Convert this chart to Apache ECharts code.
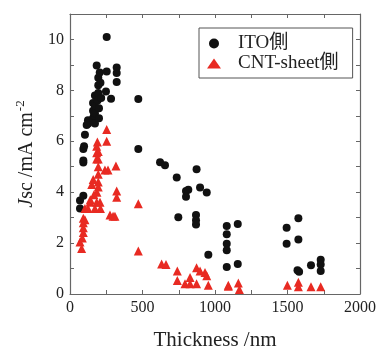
<!DOCTYPE html>
<html>
<head>
<meta charset="utf-8">
<script src="https://cdn.jsdelivr.net/npm/echarts@6/dist/echarts.min.js"></script>
<style>
  html, body {margin: 0; padding: 0; background: #fff;}
  #chart {width: 382px; height: 356px;}
</style>
</head>
<body>
<div id="chart"></div>
<script>
// thickness (nm), Jsc (mA cm-2)
const itoSide = [
  [69, 3.36], [69, 3.67], [92, 3.86], [92, 5.17], [92, 5.24], [92, 5.7], [97, 5.8], [103, 6.26],
  [115, 6.64], [124, 6.83], [126, 6.7], [159, 6.9], [159, 7.2], [159, 7.5], [165, 7.0],
  [172, 6.7], [172, 7.1], [172, 7.4], [172, 7.8], [184, 8.98], [190, 7.6], [195, 7.9],
  [195, 8.2], [195, 8.5], [200, 7.3], [200, 6.9], [205, 8.7], [210, 8.3], [215, 7.7],
  [253, 10.1], [253, 8.74], [248, 7.96], [283, 7.67], [322, 8.9], [322, 8.68], [322, 8.33],
  [471, 7.66], [471, 5.7], [621, 5.18], [655, 5.06], [736, 4.58], [747, 3.02], [800, 4.05],
  [816, 4.1], [800, 3.82], [869, 3.1], [869, 2.9], [869, 2.73], [873, 4.9], [897, 4.18],
  [943, 3.99], [954, 1.54], [1081, 2.67], [1081, 2.35], [1081, 1.97], [1081, 1.72],
  [1081, 1.06], [1157, 2.75], [1157, 1.18], [1494, 2.6], [1494, 1.97], [1575, 2.98],
  [1575, 2.14], [1569, 0.93], [1580, 0.87], [1662, 1.13], [1729, 1.35], [1729, 1.16], [1729, 0.9]
];
const cntSide = [
  [69, 2.04], [80, 1.79], [85, 2.2], [92, 2.42], [92, 2.6], [92, 2.8], [92, 2.98], [103, 3.36],
  [103, 2.92], [124, 3.36], [138, 3.6], [140, 3.7], [150, 4.3], [160, 4.5], [165, 3.9],
  [172, 3.36], [184, 3.6], [186, 4.0], [184, 5.8], [184, 5.55], [184, 5.3], [189, 5.97],
  [195, 5.6], [195, 5.3], [195, 5.0], [195, 4.7], [195, 4.4], [195, 4.2], [207, 3.6],
  [210, 3.36], [241, 4.87], [253, 6.46], [253, 6.0], [262, 4.87], [276, 3.1], [297, 3.05],
  [310, 3.05], [317, 5.03], [322, 4.05], [322, 3.8], [471, 3.55], [471, 1.69],
  [632, 1.18], [662, 1.16], [740, 0.9], [740, 0.53], [793, 0.4], [828, 0.65], [828, 0.4],
  [873, 1.03], [873, 0.4], [897, 0.9], [931, 0.84], [943, 0.72], [954, 0.34],
  [1092, 0.34], [1092, 0.3], [1161, 0.43], [1168, 0.18], [1499, 0.34], [1575, 0.46],
  [1575, 0.28], [1662, 0.28], [1729, 0.28]
];
const seriesNames = ['ITO側', 'CNT-sheet側'];

const font = "'Liberation Serif', 'Noto Sans CJK JP', serif";
const lineColor = '#666';
const textColor = '#222';

const axisBase = {
  axisLine: {show: true, onZero: false, lineStyle: {color: lineColor, width: 1.2}},
  axisTick: {show: true, inside: true, length: 4, lineStyle: {color: lineColor}},
  minorTick: {show: true, splitNumber: 2, length: 4, lineStyle: {color: lineColor}},
  splitLine: {show: false},
  axisLabel: {color: textColor, fontFamily: font, fontSize: 16}
};

const chart = echarts.init(document.getElementById('chart'));
chart.setOption({
  animation: false,
  textStyle: {fontFamily: font},
  grid: {left: 70, right: 22, top: 14, bottom: 52},
  legend: {
    orient: 'vertical',
    left: 199,
    top: 28,
    padding: [6, 14, 5, 8],
    itemGap: 1,
    itemWidth: 14,
    itemHeight: 10,
    backgroundColor: '#fff',
    borderColor: '#555',
    borderWidth: 1,
    borderRadius: 0,
    textStyle: {fontFamily: font, fontSize: 19, color: textColor, padding: [0, 0, 0, 12]},
    data: seriesNames
  },
  xAxis: [
    {
      ...axisBase,
      type: 'value', min: 0, max: 2000, interval: 500,
      name: 'Thickness /nm', nameLocation: 'middle', nameGap: 36,
      nameTextStyle: {fontFamily: font, fontSize: 21, color: textColor},
      axisLabel: {...axisBase.axisLabel, margin: 6, formatter: v => String(v)}
    },
    {
      ...axisBase,
      type: 'value', min: 0, max: 2000, interval: 500, position: 'top',
      axisLabel: {show: false}
    }
  ],
  yAxis: [
    {
      ...axisBase,
      type: 'value', min: 0, max: 11, interval: 2,
      name: '{i|J}sc /mA cm{sup|-2}', nameLocation: 'middle', nameGap: 22,
      nameTextStyle: {
        fontFamily: font, fontSize: 20, color: textColor,
        rich: {
          i: {fontFamily: font, fontSize: 20, fontStyle: 'italic', color: textColor},
          sup: {fontFamily: font, fontSize: 13, color: textColor, padding: [0, 0, 14, 1]}
        }
      },
      axisLabel: {...axisBase.axisLabel, margin: 6,
        formatter: v => (v % 2 === 0 && v <= 10 ? String(v) : '')}
    },
    {
      ...axisBase,
      type: 'value', min: 0, max: 11, interval: 2, position: 'right',
      axisLabel: {show: false}
    }
  ],
  series: [
    {
      name: seriesNames[0],
      type: 'scatter',
      symbol: 'circle',
      symbolSize: 8,
      itemStyle: {color: '#111', opacity: 1},
      data: itoSide
    },
    {
      name: seriesNames[1],
      type: 'scatter',
      symbol: 'triangle',
      symbolSize: 9,
      itemStyle: {color: '#e82a22', opacity: 1},
      data: cntSide
    }
  ]
});
</script>
</body>
</html>
